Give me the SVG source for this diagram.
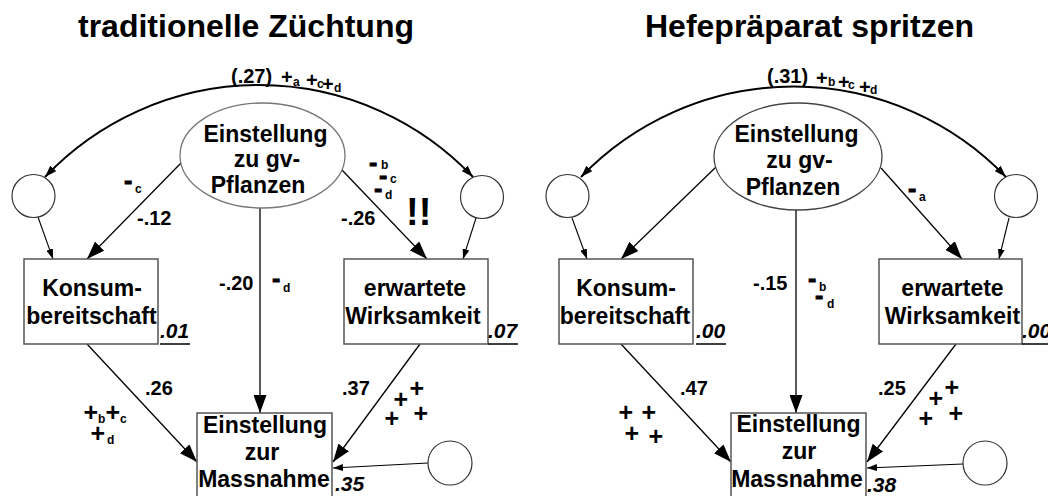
<svg xmlns="http://www.w3.org/2000/svg" width="1048" height="496" viewBox="0 0 1048 496">
  <style>
    text { font-family: "Liberation Sans", Arial, Helvetica, sans-serif; font-weight: bold; fill: #000; }
    .title { font-size: 32px; }
    .lbl { font-size: 23px; text-anchor: middle; }
    .num { font-size: 20px; }
    .r2 { font-size: 21px; font-style: italic; }
    .pl { font-size: 20px; }
    .pb { font-size: 25px; }
    .dash { font-size: 25px; stroke: #000; stroke-width: 0.8; }
    .sub { font-size: 12px; stroke: none; }
    .bang { font-size: 38px; }
    .box { fill: #fff; stroke: #555; stroke-width: 1.5; }
    .lat { fill: #fff; stroke-width: 1.3; }
    .res { fill: #fff; stroke: #333; stroke-width: 1.2; }
    .path { stroke: #000; stroke-width: 1.3; fill: none; marker-end: url(#big); }
    .err { stroke: #000; stroke-width: 1.1; fill: none; marker-end: url(#small); }
    .cov { stroke: #000; stroke-width: 2; fill: none; marker-start: url(#arcS); marker-end: url(#arcE); }
    .ul { stroke: #000; stroke-width: 1.5; }
  </style>
  <defs>
    <marker id="big" markerUnits="userSpaceOnUse" viewBox="0 0 18 13" refX="18" refY="6.5" markerWidth="18" markerHeight="13" orient="auto">
      <path d="M0,0 L18,6.5 L0,13 z" fill="#000"/>
    </marker>
    <marker id="small" markerUnits="userSpaceOnUse" viewBox="0 0 10 7" refX="10" refY="3.5" markerWidth="10" markerHeight="7" orient="auto">
      <path d="M0,0 L10,3.5 L0,7 z" fill="#000"/>
    </marker>
    <marker id="arcE" markerUnits="userSpaceOnUse" viewBox="0 0 12 8" refX="12" refY="4" markerWidth="12" markerHeight="8" orient="auto">
      <path d="M0,0 L12,4 L0,8 z" fill="#000"/>
    </marker>
    <marker id="arcS" markerUnits="userSpaceOnUse" viewBox="0 0 12 8" refX="0" refY="4" markerWidth="12" markerHeight="8" orient="auto">
      <path d="M12,0 L0,4 L12,8 z" fill="#000"/>
    </marker>
  </defs>

  <rect width="1048" height="496" fill="#fff"/>

  <!-- ===== Left model: traditionelle Züchtung ===== -->
  <g id="left-model">
    <text class="title" x="78" y="37">traditionelle Züchtung</text>

    <g id="L-connectors">
      <path class="cov" d="M45,177 A295,295 0 0 1 473,177"/>
      <line class="err" x1="38" y1="217" x2="53" y2="259"/>
      <line class="err" x1="476" y1="218" x2="463" y2="259"/>
      <line class="path" x1="181" y1="163" x2="87" y2="259"/>
      <line class="path" x1="342" y1="170" x2="427" y2="259"/>
      <line class="path" x1="260" y1="208" x2="260" y2="413"/>
      <line class="path" x1="87" y1="344" x2="197" y2="462"/>
      <line class="path" x1="420" y1="344" x2="333" y2="462"/>
      <line class="err" x1="428" y1="463" x2="333" y2="468"/>
    </g>

    <g id="L-einstellung-gv">
      <ellipse class="lat" cx="262.5" cy="155.5" rx="82.5" ry="52.5" stroke="#777"/>
      <text class="lbl" x="265.5" y="142">Einstellung</text>
      <text class="lbl" x="267" y="167">zu gv-</text>
      <text class="lbl" x="258" y="193">Pflanzen</text>
    </g>

    <g id="L-res-konsum"><circle class="res" cx="33.5" cy="196" r="21.5"/></g>
    <g id="L-res-wirksam"><circle class="res" cx="482" cy="197" r="21.5"/></g>
    <g id="L-res-massnahme"><circle class="res" cx="450" cy="463" r="22"/></g>

    <g id="L-konsum">
      <rect class="box" x="24" y="259" width="134" height="85"/>
      <text class="lbl" x="92" y="296">Konsum-</text>
      <text class="lbl" x="91.5" y="324">bereitschaft</text>
      <text class="r2" x="160" y="338">.01</text>
      <line class="ul" x1="160" y1="344" x2="190" y2="344"/>
    </g>

    <g id="L-wirksamkeit">
      <rect class="box" x="344" y="259" width="144" height="85"/>
      <text class="lbl" x="415" y="296">erwartete</text>
      <text class="lbl" x="413" y="324">Wirksamkeit</text>
      <text class="r2" x="488" y="338">.07</text>
      <line class="ul" x1="488" y1="344" x2="518" y2="344"/>
    </g>

    <g id="L-massnahme">
      <rect class="box" x="197" y="413" width="135" height="95"/>
      <text class="lbl" x="265" y="433">Einstellung</text>
      <text class="lbl" x="262" y="460">zur</text>
      <text class="lbl" x="264" y="487">Massnahme</text>
      <text class="r2" x="335" y="491">.35</text>
    </g>

    <g id="L-labels">
      <text class="num" x="231" y="83">(.27)<tspan class="pl" x="281" y="84">+</tspan><tspan class="sub" x="293" y="86">a</tspan><tspan class="pl" x="306" y="87">+</tspan><tspan class="sub" x="317" y="88">c</tspan><tspan class="pl" x="322" y="91">+</tspan><tspan class="sub" x="334" y="92">d</tspan></text>

      <text class="dash" x="124" y="189">-<tspan class="sub" x="135" y="193">c</tspan></text>
      <text class="num" x="137" y="225">-.12</text>

      <text class="dash" x="369" y="171">-<tspan class="sub" x="381" y="169">b</tspan><tspan x="379" y="184">-</tspan><tspan class="sub" x="390" y="183">c</tspan><tspan x="374" y="197">-</tspan><tspan class="sub" x="385" y="199">d</tspan></text>
      <text class="num" x="341" y="225">-.26</text>
      <text class="bang" x="406" y="225">!!</text>

      <text class="num" x="219" y="290">-.20</text>
      <text class="dash" x="272" y="287">-<tspan class="sub" x="283" y="292">d</tspan></text>

      <text class="num" x="145" y="395">.26</text>
      <text class="pb" x="83.5" y="421">+<tspan class="sub" x="98" y="423">b</tspan><tspan x="105.5" y="421">+</tspan><tspan class="sub" x="120" y="423">c</tspan><tspan x="90.5" y="442">+</tspan><tspan class="sub" x="107" y="444">d</tspan></text>

      <text class="num" x="342" y="395">.37</text>
      <text class="pb" x="409.5" y="397">+<tspan x="393.5" y="408">+</tspan><tspan x="384.5" y="427">+</tspan><tspan x="413.5" y="422">+</tspan></text>
    </g>
  </g>

  <!-- ===== Right model: Hefepräparat spritzen ===== -->
  <g id="right-model">
    <text class="title" x="645" y="37">Hefepräparat spritzen</text>

    <g id="R-connectors">
      <path class="cov" d="M581,177 A295,295 0 0 1 1006,177"/>
      <line class="err" x1="572" y1="218" x2="587" y2="259"/>
      <line class="err" x1="1009" y1="218" x2="999" y2="259"/>
      <line class="path" x1="716" y1="167" x2="621" y2="259"/>
      <line class="path" x1="881" y1="168" x2="962" y2="259"/>
      <line class="path" x1="796" y1="210" x2="796" y2="413"/>
      <line class="path" x1="621" y1="344" x2="731" y2="462"/>
      <line class="path" x1="956" y1="344" x2="867" y2="462"/>
      <line class="err" x1="963" y1="464" x2="867" y2="468"/>
    </g>

    <g id="R-einstellung-gv">
      <ellipse class="lat" cx="798" cy="156.5" rx="84" ry="53.5" stroke="#444"/>
      <text class="lbl" x="796.5" y="142">Einstellung</text>
      <text class="lbl" x="799.5" y="168">zu gv-</text>
      <text class="lbl" x="793" y="195">Pflanzen</text>
    </g>

    <g id="R-res-konsum"><circle class="res" cx="567.5" cy="196" r="21.5"/></g>
    <g id="R-res-wirksam"><circle class="res" cx="1016" cy="196" r="21.5"/></g>
    <g id="R-res-massnahme"><circle class="res" cx="985" cy="463" r="22"/></g>

    <g id="R-konsum">
      <rect class="box" x="559" y="259" width="134" height="85"/>
      <text class="lbl" x="626" y="296">Konsum-</text>
      <text class="lbl" x="625" y="324">bereitschaft</text>
      <text class="r2" x="696" y="338">.00</text>
      <line class="ul" x1="696" y1="344" x2="726" y2="344"/>
    </g>

    <g id="R-wirksamkeit">
      <rect class="box" x="879" y="259" width="143" height="85"/>
      <text class="lbl" x="952.5" y="296">erwartete</text>
      <text class="lbl" x="952.5" y="324">Wirksamkeit</text>
      <text class="r2" x="1022" y="338">.00</text>
      <line class="ul" x1="1022" y1="344" x2="1052" y2="344"/>
    </g>

    <g id="R-massnahme">
      <rect class="box" x="731" y="413" width="135" height="95"/>
      <text class="lbl" x="798.5" y="432">Einstellung</text>
      <text class="lbl" x="799" y="459">zur</text>
      <text class="lbl" x="797" y="487">Massnahme</text>
      <text class="r2" x="867" y="492">.38</text>
    </g>

    <g id="R-labels">
      <text class="num" x="767" y="83">(.31)<tspan class="pl" x="816" y="85">+</tspan><tspan class="sub" x="828" y="86">b</tspan><tspan class="pl" x="838" y="89">+</tspan><tspan class="sub" x="848" y="89">c</tspan><tspan class="pl" x="859" y="94">+</tspan><tspan class="sub" x="870" y="94">d</tspan></text>

      <text class="dash" x="908" y="197">-<tspan class="sub" x="919" y="201">a</tspan></text>

      <text class="num" x="753" y="290">-.15</text>
      <text class="dash" x="808" y="287">-<tspan class="sub" x="819" y="291">b</tspan><tspan x="815" y="304">-</tspan><tspan class="sub" x="827" y="308">d</tspan></text>

      <text class="num" x="680" y="395">.47</text>
      <text class="pb" x="618.5" y="421">+<tspan x="641.5" y="421">+</tspan><tspan x="624.5" y="442">+</tspan><tspan x="648.5" y="445">+</tspan></text>

      <text class="num" x="878" y="395">.25</text>
      <text class="pb" x="944.5" y="396">+<tspan x="928.5" y="407">+</tspan><tspan x="918.5" y="427">+</tspan><tspan x="948.5" y="422">+</tspan></text>
    </g>
  </g>
</svg>
